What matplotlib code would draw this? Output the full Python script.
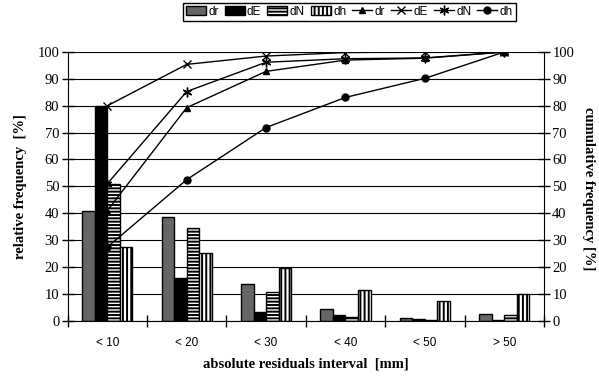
import numpy as np
import matplotlib
matplotlib.use('Agg')
import matplotlib.pyplot as plt
from matplotlib.lines import Line2D
from matplotlib.patches import Patch

# data
categories = ['< 10', '< 20', '< 30', '< 40', '< 50', '> 50']
rel_dr = [41, 38.5, 13.6, 4.2, 0.9, 2.6]
rel_dE = [80, 15.8, 3.1, 2.1, 0.7, 0.3]
rel_dN = [51, 34.5, 10.8, 1.5, 0.3, 2.2]
rel_dh = [27.4, 25.1, 19.5, 11.5, 7.3, 9.8]

cum_dr = [41, 79.3, 92.8, 97, 97.7, 100]
cum_dE = [80, 95.4, 98.5, 99.8, 100, 100]
cum_dN = [51, 85.3, 96.2, 97.5, 97.8, 100]
cum_dh = [27.4, 52.5, 71.9, 83.1, 90.2, 100]

plt.rcParams['hatch.linewidth'] = 1.4

fig = plt.figure(figsize=(5.99, 3.78), dpi=100)
ax = fig.add_axes([0.113, 0.1516, 0.795, 0.7108])

x = np.arange(len(categories))
w = 0.158
ax.bar(x - 1.5 * w, rel_dr, w, color='#666666', edgecolor='black', linewidth=1, zorder=2)
ax.bar(x - 0.5 * w, rel_dE, w, color='black', edgecolor='black', linewidth=1, zorder=2)
ax.bar(x + 0.5 * w, rel_dN, w, color='white', edgecolor='black', hatch='-----', linewidth=1, zorder=2)
ax.bar(x + 1.5 * w, rel_dh, w, color='white', edgecolor='black', hatch='||||', linewidth=1, zorder=2)

ax2 = ax.twinx()
ax2.set_position(ax.get_position())
star = (6, 2, 0)
ax2.plot(x, cum_dr, color='black', lw=1, marker='^', ms=5)
ax2.plot(x, cum_dE, color='black', lw=1, marker='x', ms=6, mew=1)
ax2.plot(x, cum_dN, color='black', lw=1, marker=star, ms=7, mew=1)
ax2.plot(x, cum_dh, color='black', lw=1, marker='o', ms=5)

for a in (ax, ax2):
    a.set_ylim(0, 100)
    a.set_yticks(np.arange(0, 101, 10))
    a.set_xlim(-0.5, len(categories) - 0.5)
    a.spines['top'].set_visible(False)
    a.tick_params(axis='y', direction='inout', length=8, width=1, labelsize=10.5, pad=2)
    for lab in a.get_yticklabels():
        lab.set_family('Liberation Serif')

ax.spines['right'].set_visible(False)
ax2.spines['left'].set_visible(False)
ax2.spines['bottom'].set_visible(False)

ax.yaxis.grid(True, color='black', lw=0.8)
ax.set_axisbelow(True)

ax.set_xticks(np.arange(-0.5, len(categories) + 0.5, 1))
ax.set_xticklabels([])
ax.set_xticks(x, minor=True)
ax.set_xticklabels(categories, minor=True, family='Liberation Sans', fontsize=8.5)
ax.tick_params(axis='x', which='major', direction='inout', length=8, width=1)
ax.tick_params(axis='x', which='minor', length=0, pad=12)

ax.set_ylabel('relative frequency  [%]', family='Liberation Serif', fontweight='bold', fontsize=10.5)
ax.yaxis.set_label_coords(-0.085, 0.5)
fig.text(588 / 599, 0.5, 'cumulative frequency [%]', family='Liberation Serif', fontweight='bold',
         fontsize=10.5, rotation=-90, ha='center', va='center')
ax.set_xlabel('absolute residuals interval  [mm]', family='Liberation Serif', fontweight='bold',
              fontsize=10.5, labelpad=6)

handles = [
    Patch(facecolor='#666666', edgecolor='black', label='dr'),
    Patch(facecolor='black', edgecolor='black', label='dE'),
    Patch(facecolor='white', edgecolor='black', hatch='-----', label='dN'),
    Patch(facecolor='white', edgecolor='black', hatch='||||', label='dh'),
    Line2D([], [], color='black', lw=1, marker='^', ms=5, label='dr'),
    Line2D([], [], color='black', lw=1, marker='x', ms=6, label='dE'),
    Line2D([], [], color='black', lw=1, marker=star, ms=7, label='dN'),
    Line2D([], [], color='black', lw=1, marker='o', ms=5, label='dh'),
]
fig.legend(handles=handles, loc='upper center', bbox_to_anchor=(0.583, 0.993), ncol=8,
           frameon=True, fancybox=False, edgecolor='black', framealpha=1,
           prop={'family': 'Liberation Sans', 'size': 8.5},
           handlelength=1.7, handleheight=0.8, handletextpad=0.2, columnspacing=0.5,
           borderpad=0.25, borderaxespad=0)

fig.savefig('out.png', dpi=100)
